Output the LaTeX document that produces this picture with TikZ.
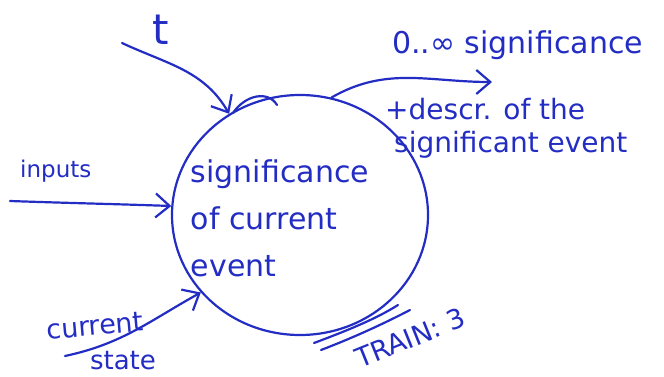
\documentclass[tikz,border=0pt]{standalone}
\usepackage{fontspec}
\setmainfont{DejaVu Sans}
\usetikzlibrary{arrows.meta,shapes.geometric}
\definecolor{ink}{RGB}{35,45,195}
\begin{document}
\begin{tikzpicture}[x=1pt,y=-1pt,
  stroke/.style={draw=ink, line width=2.2pt, line cap=round},
  arr/.style={stroke, -{Straight Barb[length=14pt,width=24pt]}},
  lbl/.style={text=ink, inner sep=0pt}]
\useasboundingbox[fill=white] (0,0) rectangle (664,377);

% process bubble
\node[ellipse, stroke, minimum width=256pt, minimum height=240pt, inner sep=0pt] (proc) at (300,215) {};
\node[lbl, align=left, font=\fontsize{30}{47}\selectfont] (body) at (280,218) {significance\\of current\\event};

% labels
\node[lbl, anchor=base west, font=\fontsize{42}{44}\selectfont] (tlbl) at (152,45) {t};
\node[lbl, anchor=base west, font=\fontsize{23}{26}\selectfont] (inlbl) at (20,178) {inputs};
\node[lbl, rotate=5, font=\fontsize{27}{30}\selectfont] (curlbl) at (95,326) {current};
\node[lbl, font=\fontsize{26}{30}\selectfont] (statelbl) at (123,361) {state};
\node[lbl, anchor=base west, font=\fontsize{30}{32}\selectfont] (siglbl) at (392,54) {0..∞ significance};
\node[lbl, anchor=base west, font=\fontsize{28}{32}\selectfont] (desc1) at (385,120) {+descr. of the};
\node[lbl, anchor=base west, font=\fontsize{28}{32}\selectfont] (desc2) at (394,153) {significant event};
\node[lbl, rotate=22, font=\fontsize{27}{30}\selectfont] (train) at (410,338) {TRAIN: 3};

% free ends
\coordinate (tstart) at (122,43);
\coordinate (instart) at (10,201);
\coordinate (csstart) at (65,356);
\coordinate (outend) at (492,82);

% connectors
\draw[arr] (tstart) to[out=-25, in=120] (proc.125);
\draw[arr] (instart) to[out=-2, in=178] (proc.176);
\draw[arr] (csstart) to[out=12, in=209] (proc.218);
\draw[arr] (proc.75) to[out=30, in=180] (outend);

% extra strokes
\draw[stroke] (233,113) .. controls (245,95) and (268,90) .. (277,105);
\draw[stroke] (314,343) .. controls (346,331) and (376,319) .. (398,305);
\draw[stroke] (321,350) .. controls (355,337) and (385,323) .. (410,310);
\end{tikzpicture}
\end{document}
